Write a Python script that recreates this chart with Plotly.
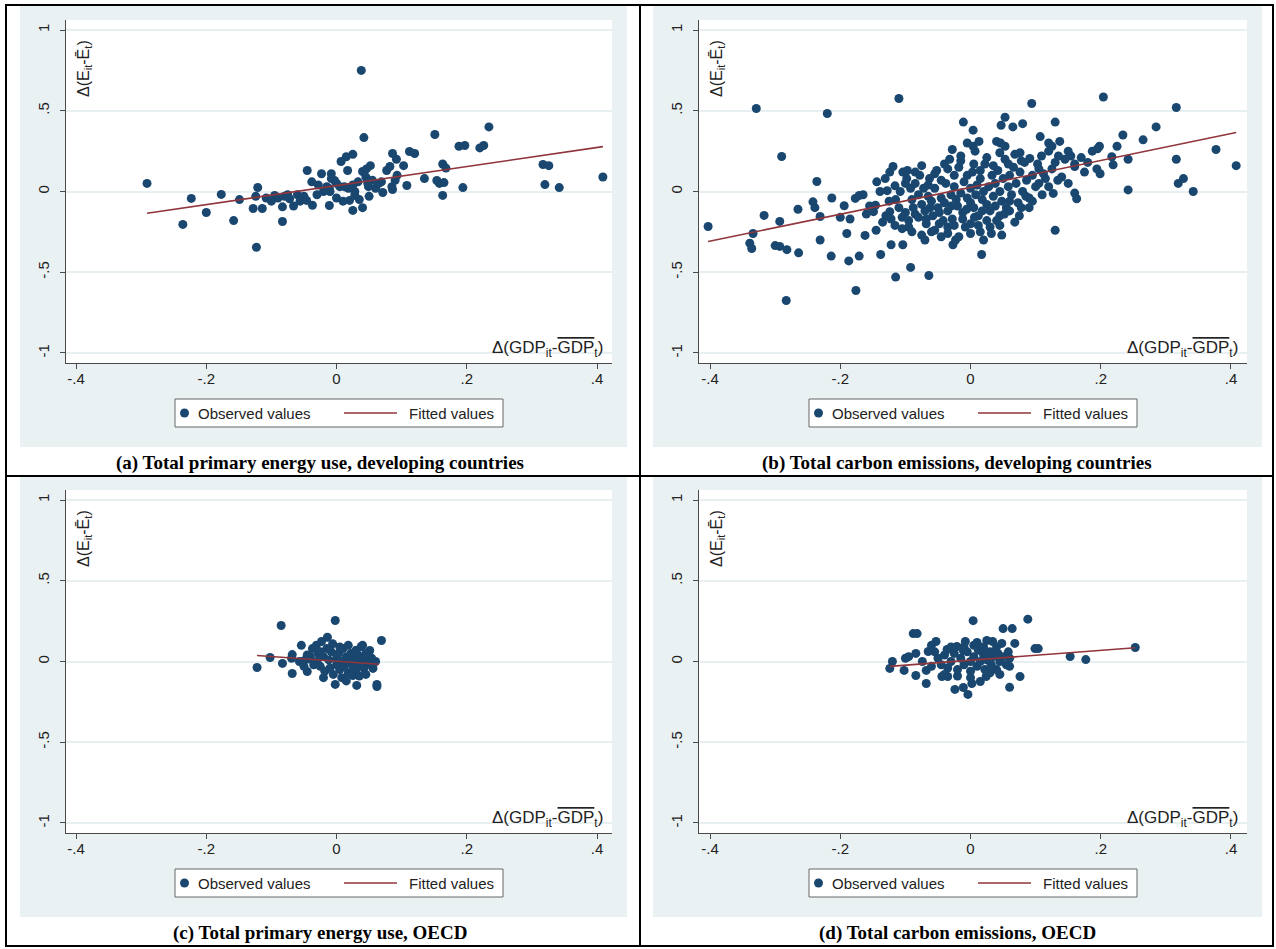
import plotly.graph_objects as go

W, H = 1276, 949

# ---------------- data ----------------
# (a) Total primary energy use, developing countries
a_x = [-0.291, -0.236, -0.223, -0.200, -0.177, -0.158, -0.149, -0.128, -0.114, -0.121, -0.124, -0.123,
       -0.083, -0.083, -0.108, -0.095, -0.080, -0.072, -0.066, -0.060, -0.056, -0.050, -0.046, -0.037,
       -0.045, -0.038, -0.023, -0.008, -0.028, -0.011, -0.010, -0.011, -0.003, -0.008, 0.005, 0.012,
       0.018, 0.020, 0.025, 0.040, 0.028, 0.028, 0.033, 0.025, 0.007, 0.015, 0.025, 0.017, 0.038,
       0.042, 0.040, 0.046, 0.052, 0.048, 0.049, 0.050, 0.069, 0.071, 0.077, 0.082, 0.086, 0.092,
       0.086, 0.085, 0.090, 0.093, 0.103, 0.108, 0.112, 0.120, 0.135, 0.151, 0.154, 0.158, 0.163,
       0.168, 0.163, 0.165, 0.188, 0.197, 0.194, 0.220, 0.226, 0.234, 0.317, 0.326, 0.320, 0.342,
       0.409, -0.030, -0.020, 0.000, 0.010, 0.035, 0.060, 0.065, 0.000, -0.015, 0.045, 0.055,
       -0.100, -0.090, -0.075]
a_y = [0.050, -0.204, -0.043, -0.130, -0.018, -0.180, -0.050, -0.105, -0.105, 0.025, -0.030, -0.345,
       -0.186, -0.095, -0.040, -0.025, -0.030, -0.045, -0.090, -0.020, -0.060, -0.030, -0.055, -0.085,
       0.130, 0.060, 0.110, 0.110, 0.040, -0.087, 0.000, 0.018, 0.068, 0.080, 0.030, 0.030,
       0.020, -0.055, -0.117, -0.100, -0.024, 0.000, 0.060, 0.040, 0.186, 0.215, 0.230, 0.130, 0.750,
       0.334, 0.124, 0.140, 0.160, 0.050, 0.030, -0.030, 0.060, -0.006, 0.130, 0.155, 0.235, 0.200,
       0.012, 0.030, 0.070, 0.100, 0.160, 0.037, 0.248, 0.235, 0.080, 0.353, 0.068, 0.050, 0.170,
       0.145, -0.024, 0.055, 0.280, 0.285, 0.024, 0.270, 0.285, 0.400, 0.167, 0.160, 0.043, 0.024,
       0.090, -0.020, 0.000, -0.040, -0.060, -0.050, 0.020, 0.050, 0.050, 0.030, 0.090, 0.070,
       -0.060, -0.040, -0.020]
a_fit_x = [-0.291, 0.409]
a_fit_y = [-0.135, 0.278]

# (b) Total carbon emissions, developing countries
b_x = [-0.329, -0.220, -0.110, -0.290, -0.236, 0.204, 0.316, 0.094, 0.053, 0.047, 0.065, 0.080,
       -0.011, 0.004, 0.130, 0.285, 0.234, 0.265, 0.107, 0.120, 0.125, 0.040, 0.046, 0.053, 0.004,
       0.013, 0.137, 0.076, 0.091, 0.103, 0.109, 0.120, 0.130, 0.135, 0.150, 0.154, 0.160, 0.160,
       0.187, 0.195, 0.198, 0.194, 0.199, 0.217, 0.219, 0.225, 0.242, 0.242, 0.316, 0.319, 0.327,
       0.342, 0.377, 0.408, 0.127, 0.160, 0.163, 0.130, 0.134, 0.048,
       -0.403, -0.334, -0.317, -0.293, -0.265, -0.242, -0.239, -0.231, -0.213, -0.200, -0.194, -0.177,
       -0.171, -0.162, -0.155, -0.146, -0.149, -0.144, -0.131, -0.124, -0.119, -0.139, -0.128, -0.116,
       -0.104, -0.097, -0.098, -0.130, -0.122, -0.116, -0.105, -0.124,
       -0.339, -0.336, -0.300, -0.293, -0.282, -0.264, -0.283, -0.231, -0.214, -0.187, -0.171, -0.176,
       -0.138, -0.122, -0.104, -0.092, -0.115, -0.064, -0.027, -0.023, 0.017,
       -0.090, -0.080, -0.075, -0.070, -0.065, -0.060, -0.058, -0.055, -0.050, -0.048, -0.045, -0.040,
       -0.038, -0.035, -0.030, -0.028, -0.025, -0.022, -0.020, -0.018, -0.015, -0.012, -0.010, -0.008,
       -0.005, 0.000, 0.000, 0.003, 0.005, 0.008, 0.010, 0.012, 0.015, 0.018, 0.020, 0.022, 0.025,
       0.028, 0.030, 0.033, 0.035, 0.038, 0.040, 0.042, 0.045, 0.048, 0.050, 0.053, 0.055, 0.058,
       0.060, 0.063, 0.066, 0.070, 0.073, 0.076, 0.080, 0.083, 0.086, 0.090, 0.095, 0.100, 0.105,
       0.110, 0.115,
       -0.100, -0.095, -0.088, -0.085, -0.080, -0.078, -0.072, -0.068, -0.063, -0.060, -0.052, -0.045,
       -0.040, -0.032, -0.028, -0.015, -0.005, 0.007, 0.000, 0.015, 0.030, 0.045, 0.060, 0.075, 0.090,
       0.020, -0.035, -0.070, -0.090, -0.110, -0.115, -0.108, -0.100, -0.092,
       -0.105, -0.095, -0.085, -0.075, -0.068, -0.062, -0.055, -0.048, -0.042, -0.035, -0.030, -0.025,
       -0.018, -0.012, -0.006, 0.000, 0.006, 0.012, 0.018, 0.025, 0.032, 0.038, 0.045, 0.052, 0.060,
       0.068, 0.078, 0.085, 0.095, 0.105, 0.112, 0.120, 0.125, 0.140, 0.145, 0.150, 0.170, 0.175,
       0.180, -0.085, -0.075, -0.065, -0.055, -0.045, -0.035, -0.025, -0.015, -0.005, 0.005, 0.015,
       0.025, 0.035, 0.045, 0.058, 0.068, 0.078, -0.125, -0.135, -0.145, -0.160, -0.165, -0.185,
       -0.190]
b_y = [0.514, 0.483, 0.576, 0.217, 0.062, 0.585, 0.520, 0.545, 0.460, 0.410, 0.400, 0.420,
       0.430, 0.380, 0.430, 0.400, 0.350, 0.320, 0.340, 0.300, 0.280, 0.310, 0.300, 0.280, 0.280,
       0.310, 0.310, 0.240, 0.205, 0.170, 0.220, 0.250, 0.180, 0.220, 0.250, 0.220, 0.170, 0.155,
       0.250, 0.265, 0.280, 0.140, 0.110, 0.215, 0.165, 0.280, 0.200, 0.010, 0.200, 0.050, 0.080,
       0.000, 0.260, 0.160, -0.012, -0.010, -0.045, -0.240, 0.070, -0.270,
       -0.217, -0.260, -0.148, -0.185, -0.110, -0.064, -0.100, -0.155, -0.040, -0.160, -0.088, -0.043,
       -0.025, -0.272, -0.090, -0.085, -0.125, 0.060, 0.080, 0.120, 0.155, 0.000, 0.005, 0.035,
       0.120, 0.130, 0.080, -0.150, -0.170, -0.210, -0.230, -0.125,
       -0.320, -0.353, -0.335, -0.340, -0.360, -0.380, -0.675, -0.300, -0.400, -0.430, -0.400, -0.613,
       -0.390, -0.330, -0.330, -0.470, -0.530, -0.520, -0.330, -0.300, -0.390,
       -0.050, -0.020, -0.080, -0.120, -0.030, -0.060, -0.150, 0.020, -0.100, -0.200, -0.040, -0.070,
       0.050, -0.120, -0.020, -0.170, 0.100, -0.050, -0.090, 0.150, -0.010, -0.130, 0.060, -0.220,
       -0.040, 0.020, -0.070, 0.120, -0.100, -0.020, 0.040, -0.150, 0.080, -0.050, 0.000, 0.170, -0.080,
       0.030, -0.120, 0.100, -0.030, 0.050, -0.180, 0.130, 0.000, -0.060, 0.080, 0.200, -0.100, 0.030,
       0.100, -0.020, 0.150, 0.050, -0.070, 0.120, 0.000, 0.180, 0.070, -0.040, 0.100, 0.030, 0.140,
       -0.020, 0.080,
       -0.130, -0.180, -0.100, 0.050, -0.160, 0.100, 0.020, -0.200, 0.080, -0.250, 0.130, -0.280,
       0.170, 0.200, 0.260, 0.220, 0.300, 0.250, -0.200, -0.250, -0.220, -0.150, -0.120, -0.150, -0.100,
       -0.300, -0.220, -0.300, -0.250, -0.100, -0.050, 0.000, 0.050, 0.020,
       -0.160, -0.220, -0.140, -0.270, -0.170, -0.100, -0.240, -0.130, -0.180, -0.260, -0.090, -0.210,
       -0.280, -0.170, -0.110, -0.260, -0.160, -0.210, -0.120, -0.180, -0.260, -0.090, -0.210, -0.140,
       -0.060, -0.190, -0.100, -0.030, -0.060, 0.050, 0.110, 0.030, 0.140, 0.090, 0.200, 0.050, 0.210,
       0.120, 0.180, 0.120, 0.160, 0.040, 0.110, 0.070, 0.140, 0.030, 0.190, 0.100, 0.170, 0.130,
       0.210, 0.160, 0.240, 0.170, 0.230, 0.190, -0.060, -0.190, -0.240, -0.140, -0.020, -0.170,
       -0.260]
b_fit_x = [-0.403, 0.408]
b_fit_y = [-0.310, 0.365]

# (c) Total primary energy use, OECD
c_x = [-0.085, -0.002, 0.069, -0.122, -0.102, -0.083, -0.068, -0.045, -0.054, -0.068, -0.069, -0.057,
       -0.050, -0.042, -0.037, -0.031, -0.023, -0.014, -0.002, 0.031, 0.062, 0.062, 0.056, 0.038,
       0.051, 0.054, 0.025,
       -0.030, -0.025, -0.020, -0.018, -0.012, -0.010, -0.008, -0.005, 0.000, 0.000, 0.003, 0.005,
       0.008, 0.010, 0.012, 0.015, 0.018, 0.020, 0.022, 0.025, 0.028, 0.030, 0.033, 0.035, 0.040,
       0.042, 0.045, 0.048, 0.050, -0.028, -0.035, -0.040, -0.015, -0.006, 0.005, -0.020, 0.008,
       0.015, 0.035, 0.045, 0.055, 0.060, -0.025, -0.045, -0.050, 0.018, 0.030, 0.040]
c_y = [0.223, 0.254, 0.130, -0.037, 0.025, -0.012, -0.074, -0.062, 0.100, 0.043, 0.020, 0.000,
       0.005, 0.015, 0.080, 0.100, 0.124, 0.150, -0.142, -0.148, -0.142, -0.155, -0.043, 0.093,
       0.068, 0.020, -0.087,
       0.000, -0.030, 0.030, -0.060, 0.010, -0.040, 0.060, -0.080, 0.020, -0.020, 0.050, -0.050,
       0.000, 0.080, -0.030, 0.030, -0.070, 0.000, 0.050, -0.030, 0.020, -0.050, 0.040, -0.010, 0.020,
       -0.040, 0.050, -0.010, 0.030, 0.050, -0.020, 0.030, 0.080, 0.110, 0.090, -0.100, -0.100,
       -0.120, -0.090, -0.080, -0.030, 0.000, 0.060, 0.040, -0.030, 0.100, 0.070, 0.100]
c_fit_x = [-0.122, 0.065]
c_fit_y = [0.037, -0.017]

# (d) Total carbon emissions, OECD
d_x = [0.004, 0.088, -0.088, -0.082, 0.050, 0.064, -0.053, -0.008, 0.010, 0.025, 0.034, 0.048,
       0.068, -0.036, -0.021, -0.011, 0.099, 0.104, -0.084, -0.065, 0.153, 0.177, -0.120, -0.124,
       -0.102, -0.074, -0.068, -0.084, -0.068, -0.024, -0.011, -0.004, 0.002, 0.015, 0.024, 0.060,
       0.076, 0.060, -0.044, -0.035, 0.253,
       -0.050, -0.045, -0.040, -0.035, -0.030, -0.025, -0.020, -0.015, -0.010, -0.005, 0.000, 0.000,
       0.005, 0.010, 0.012, 0.015, 0.020, 0.022, 0.025, 0.030, 0.032, 0.035, 0.040, 0.042, 0.045,
       0.050, 0.055, 0.058, 0.060, -0.060, -0.055, -0.030, -0.010, 0.005, 0.020, 0.040, -0.040,
       -0.020, 0.000, 0.030, 0.045, -0.060, -0.100, -0.095]
d_y = [0.253, 0.262, 0.173, 0.173, 0.204, 0.204, 0.124, 0.124, 0.118, 0.130, 0.124, 0.112,
       0.112, 0.074, 0.093, 0.068, 0.080, 0.080, 0.050, 0.062, 0.031, 0.012, 0.000, -0.043,
       -0.055, 0.000, -0.055, -0.087, -0.136, -0.173, -0.161, -0.204, -0.136, -0.124, -0.093, -0.160,
       -0.093, -0.030, -0.093, -0.093, 0.087,
       0.020, -0.020, 0.040, -0.040, 0.000, 0.050, -0.050, 0.020, -0.020, 0.060, 0.000, -0.060,
       0.030, -0.030, 0.070, 0.000, 0.040, -0.050, 0.010, 0.060, -0.020, 0.030, -0.050, 0.050, 0.000,
       0.030, -0.020, 0.060, 0.020, -0.030, 0.060, 0.090, 0.090, 0.100, 0.090, 0.090, -0.080,
       -0.090, -0.100, -0.070, -0.080, 0.100, 0.020, 0.030]
d_fit_x = [-0.124, 0.253]
d_fit_y = [-0.030, 0.085]

captions = ["(a) Total primary energy use, developing countries",
            "(b) Total carbon emissions, developing countries",
            "(c) Total primary energy use, OECD",
            "(d) Total carbon emissions, OECD"]
legend_labels = ["Observed values", "Fitted values"]
x_ticks = [-0.4, -0.2, 0, 0.2, 0.4]
x_ticktext = ["-.4", "-.2", "0", ".2", ".4"]
y_ticks = [-1, -0.5, 0, 0.5, 1]
y_ticktext = ["-1", "-.5", "0", ".5", "1"]

# ---------------- styling ----------------
NAVY = "#1A476F"
MAROON = "#90353B"
BG = "#EAF1F3"
GRID = "#E8EFF1"
AX = "#4a4a4a"
FONT = "Liberation Sans, Arial, sans-serif"

def fx(p):
    return p / W

def fy(p):
    return 1 - p / H

# panel geometry in pixels: plot area (left, right, top, bottom), graph region, x range
panels = [
    dict(pl=66, pr=612, pt=20, pb=363, gl=20, gr=627, gt=6, gb=447, xr=[-0.4154, 0.423], cap_x=320, cap_y=463),
    dict(pl=699, pr=1247, pt=20, pb=363, gl=653, gr=1262, gt=6, gb=447, xr=[-0.417, 0.4246], cap_x=957, cap_y=463),
    dict(pl=66, pr=612, pt=490, pb=833, gl=20, gr=627, gt=477, gb=917, xr=[-0.4154, 0.423], cap_x=320, cap_y=933),
    dict(pl=699, pr=1247, pt=490, pb=833, gl=653, gr=1262, gt=477, gb=917, xr=[-0.417, 0.4246], cap_x=957, cap_y=933),
]
data = [(a_x, a_y, a_fit_x, a_fit_y), (b_x, b_y, b_fit_x, b_fit_y),
        (c_x, c_y, c_fit_x, c_fit_y), (d_x, d_y, d_fit_x, d_fit_y)]

fig = go.Figure()
layout = dict(width=W, height=H, margin=dict(l=0, r=0, t=0, b=0),
              paper_bgcolor="white", plot_bgcolor="white",
              font=dict(family=FONT, color="#222"), showlegend=False)
shapes = []
annotations = []

def rect(x0, y0, x1, y1, **kw):
    d = dict(type="rect", xref="paper", yref="paper", x0=fx(x0), x1=fx(x1), y0=fy(y1), y1=fy(y0))
    d.update(kw)
    return d

for i, (p, (sx, sy, fxs, fys)) in enumerate(zip(panels, data)):
    n = "" if i == 0 else str(i + 1)
    xa, ya = "x" + n, "y" + n
    fig.add_trace(go.Scatter(x=sx, y=sy, mode="markers", name=legend_labels[0],
                             marker=dict(color=NAVY, size=9, line=dict(width=0)),
                             xaxis=xa, yaxis=ya))
    fig.add_trace(go.Scatter(x=fxs, y=fys, mode="lines", name=legend_labels[1],
                             line=dict(color=MAROON, width=1.6),
                             xaxis=xa, yaxis=ya))
    layout["xaxis" + n] = dict(domain=[fx(p["pl"]), fx(p["pr"])], range=p["xr"], anchor=ya,
                               tickvals=x_ticks, ticktext=x_ticktext, ticks="outside", ticklen=5,
                               tickcolor=AX, showline=True, linecolor=AX, linewidth=1,
                               ticklabelstandoff=-3,
                               showgrid=False, zeroline=False, tickfont=dict(size=15, color="#222"),
                               fixedrange=True)
    layout["yaxis" + n] = dict(domain=[fy(p["pb"]), fy(p["pt"])], range=[-1.062, 1.062], anchor=xa,
                               tickvals=y_ticks, ticktext=y_ticktext, ticks="outside", ticklen=5,
                               tickcolor=AX, showline=True, linecolor=AX, linewidth=1,
                               ticklabelstandoff=5,
                               showgrid=True, gridcolor=GRID, gridwidth=1.5, zeroline=False,
                               tickangle=-90, tickfont=dict(size=15, color="#222"), fixedrange=True)
    # background of graph region and white plot region
    shapes.append(rect(p["gl"], p["gt"], p["gr"], p["gb"], fillcolor=BG, line=dict(width=0), layer="below"))
    shapes.append(rect(p["pl"], p["pt"], p["pr"], p["pb"], fillcolor="white", line=dict(width=0), layer="below"))
    # legend (drawn as a keyed box under the plot)
    cx = (p["pl"] + p["pr"]) / 2
    bl, bt = cx - 164, p["pb"] + 36
    bb = bt + 28
    my = (bt + bb) / 2
    shapes.append(rect(bl, bt, bl + 328, bb, fillcolor="white", line=dict(color="#666", width=1), layer="above"))
    shapes.append(dict(type="circle", xref="paper", yref="paper", x0=fx(bl + 5), x1=fx(bl + 14),
                       y0=fy(my + 4.5), y1=fy(my - 4.5), fillcolor=NAVY, line=dict(width=0), layer="above"))
    shapes.append(dict(type="line", xref="paper", yref="paper", x0=fx(bl + 169), x1=fx(bl + 222),
                       y0=fy(my), y1=fy(my), line=dict(color=MAROON, width=1.6), layer="above"))
    annotations.append(dict(xref="paper", yref="paper", x=fx(bl + 21), y=fy(my), xanchor="left",
                            yanchor="middle", showarrow=False, text=legend_labels[0],
                            font=dict(size=15, family=FONT, color="#222")))
    annotations.append(dict(xref="paper", yref="paper", x=fx(bl + 232), y=fy(my), xanchor="left",
                            yanchor="middle", showarrow=False, text=legend_labels[1],
                            font=dict(size=15, family=FONT, color="#222")))
    # axis titles inside plot area
    annotations.append(dict(xref="paper", yref="paper", x=fx(p["pl"] + 7), y=fy(p["pt"] + 18),
                            xanchor="left", yanchor="top", textangle=-90, showarrow=False,
                            text="Δ(E<sub>it</sub>-Ē<sub>t</sub>)",
                            font=dict(size=16, family=FONT, color="#222")))
    annotations.append(dict(xref="paper", yref="paper", x=fx(p["pr"] - 7), y=fy(p["pb"] - 1),
                            xanchor="right", yanchor="bottom", showarrow=False,
                            text="Δ(GDP<sub>it</sub>-<span style='text-decoration:overline'>GDP</span><sub>t</sub>)",
                            font=dict(size=17, family=FONT, color="#222")))
    annotations.append(dict(xref="paper", yref="paper", x=fx(p["cap_x"]), y=fy(p["cap_y"]),
                            xanchor="center", yanchor="middle", showarrow=False,
                            text="<b>" + captions[i] + "</b>",
                            font=dict(size=19, family="Liberation Serif, Times New Roman, serif",
                                      color="black")))

# table borders
for (x0, y0, x1, y1) in [(5, 5, 1274, 5), (5, 946, 1274, 946), (6, 5, 6, 946), (1273, 5, 1273, 946),
                         (640, 5, 640, 946), (5, 476, 1274, 476)]:
    shapes.append(dict(type="line", xref="paper", yref="paper", x0=fx(x0), x1=fx(x1), y0=fy(y0), y1=fy(y1),
                       line=dict(color="black", width=2), layer="above"))

layout["shapes"] = shapes
layout["annotations"] = annotations
fig.update_layout(**layout)
fig.write_html("out.html", config={"displayModeBar": False},
               post_script="document.body.style.margin='0';document.body.style.overflow='hidden';")
